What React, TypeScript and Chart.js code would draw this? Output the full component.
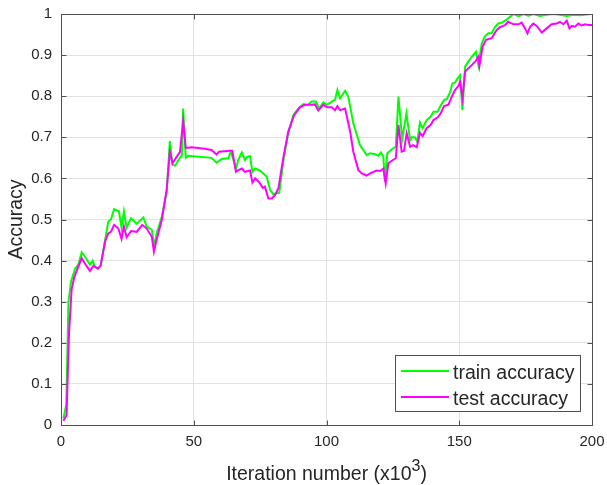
import React, { useEffect, useRef } from "react";
import { Chart, registerables } from "chart.js";

Chart.register(...registerables);

const trainX = [0.9, 2.0, 2.8, 3.8, 5.3, 6.5, 7.8, 9.0, 10.9, 11.9, 12.8, 14.0, 15.0, 16.6, 17.8, 18.8, 20.0, 21.8, 22.8, 23.7, 24.7, 26.4, 28.5, 31.0, 32.3, 34.2, 35.2, 36.0, 38.0, 39.8, 41.0, 42.0, 43.0, 44.8, 45.5, 46.0, 47.0, 48.0, 56.7, 58.6, 60.5, 63.0, 63.9, 64.9, 65.9, 66.8, 68.1, 69.3, 70.2, 71.2, 72.1, 73.1, 75.0, 76.2, 77.5, 78.7, 80.0, 81.2, 82.2, 83.8, 85.6, 87.5, 89.4, 91.3, 92.8, 94.4, 96.0, 97.2, 98.8, 100.1, 102.0, 103.2, 104.1, 105.1, 107.0, 108.2, 110.1, 112.6, 115.1, 116.4, 118.3, 119.5, 120.5, 121.4, 122.0, 122.9, 124.6, 126.1, 127.1, 128.5, 130.1, 131.5, 132.1, 133.3, 134.2, 135.2, 136.2, 137.7, 139.2, 140.3, 141.8, 142.8, 144.3, 145.3, 146.5, 147.4, 148.4, 149.3, 150.3, 151.2, 152.2, 153.4, 154.7, 156.3, 157.2, 158.5, 159.7, 161.0, 162.2, 163.5, 164.7, 166.0, 167.6, 169.1, 170.4, 172.3, 174.2, 176.1, 177.9, 180.4, 182.9, 185.4, 187.9, 190.5, 193.0, 195.5, 198.0, 200.0];
const trainY = [0.016, 0.05, 0.30, 0.35, 0.38, 0.39, 0.42, 0.41, 0.39, 0.40, 0.385, 0.38, 0.39, 0.45, 0.495, 0.50, 0.525, 0.52, 0.48, 0.52, 0.48, 0.503, 0.49, 0.505, 0.483, 0.475, 0.434, 0.466, 0.507, 0.568, 0.691, 0.633, 0.631, 0.65, 0.655, 0.77, 0.65, 0.655, 0.65, 0.638, 0.647, 0.649, 0.665, 0.646, 0.624, 0.646, 0.663, 0.645, 0.653, 0.654, 0.616, 0.624, 0.619, 0.612, 0.604, 0.573, 0.561, 0.564, 0.565, 0.645, 0.71, 0.754, 0.77, 0.781, 0.778, 0.787, 0.787, 0.77, 0.785, 0.779, 0.787, 0.791, 0.815, 0.795, 0.813, 0.799, 0.734, 0.681, 0.657, 0.661, 0.659, 0.655, 0.663, 0.653, 0.592, 0.661, 0.671, 0.677, 0.799, 0.695, 0.758, 0.693, 0.70, 0.70, 0.689, 0.736, 0.722, 0.742, 0.75, 0.762, 0.762, 0.775, 0.791, 0.793, 0.809, 0.831, 0.833, 0.843, 0.851, 0.766, 0.872, 0.884, 0.896, 0.908, 0.876, 0.929, 0.946, 0.953, 0.953, 0.969, 0.977, 0.979, 0.985, 0.993, 1.0, 0.995, 1.0, 0.996, 1.0, 0.995, 0.998, 1.0, 0.998, 0.995, 0.998, 0.997, 0.999, 1.0];

const testX = [0.9, 2.1, 3.0, 4.0, 5.0, 6.5, 7.8, 9.3, 10.9, 12.2, 13.8, 14.9, 16.6, 17.8, 18.8, 20.0, 21.6, 22.8, 23.7, 24.7, 26.4, 28.5, 30.6, 32.3, 34.2, 35.0, 36.0, 38.0, 39.8, 41.0, 42.0, 43.6, 44.8, 46.0, 47.0, 49.2, 54.2, 56.7, 58.6, 59.5, 63.7, 64.5, 65.9, 66.8, 68.1, 69.3, 71.2, 72.1, 73.1, 74.7, 76.0, 76.8, 78.1, 79.4, 80.6, 81.9, 83.8, 85.6, 87.8, 90.0, 91.9, 93.8, 95.7, 96.9, 98.8, 100.3, 102.0, 103.2, 104.1, 105.1, 107.0, 108.9, 110.1, 112.0, 113.3, 115.1, 117.0, 118.9, 120.2, 121.4, 122.3, 123.3, 124.6, 126.1, 127.1, 128.3, 129.2, 130.2, 131.5, 132.7, 134.0, 135.2, 136.2, 137.7, 139.2, 140.3, 141.8, 143.0, 144.3, 145.9, 147.2, 148.4, 149.7, 150.3, 151.2, 152.2, 154.1, 156.0, 157.2, 157.6, 158.8, 160.1, 162.2, 164.1, 165.4, 167.2, 168.5, 170.4, 172.3, 173.5, 174.8, 175.7, 176.7, 177.9, 179.2, 181.1, 182.9, 184.8, 186.7, 188.0, 189.2, 190.5, 191.5, 192.4, 193.6, 194.9, 196.1, 197.4, 198.6, 200.0];
const testY = [0.01, 0.024, 0.22, 0.33, 0.36, 0.385, 0.406, 0.39, 0.375, 0.387, 0.381, 0.387, 0.446, 0.466, 0.47, 0.487, 0.478, 0.453, 0.483, 0.457, 0.472, 0.47, 0.487, 0.478, 0.458, 0.422, 0.45, 0.50, 0.572, 0.665, 0.637, 0.653, 0.664, 0.739, 0.674, 0.676, 0.672, 0.669, 0.658, 0.665, 0.667, 0.667, 0.616, 0.62, 0.624, 0.616, 0.619, 0.59, 0.60, 0.59, 0.577, 0.58, 0.551, 0.551, 0.56, 0.576, 0.653, 0.714, 0.754, 0.773, 0.779, 0.779, 0.78, 0.765, 0.779, 0.773, 0.773, 0.766, 0.776, 0.766, 0.77, 0.714, 0.665, 0.62, 0.612, 0.607, 0.614, 0.619, 0.618, 0.624, 0.588, 0.637, 0.643, 0.649, 0.73, 0.665, 0.667, 0.71, 0.677, 0.681, 0.676, 0.711, 0.703, 0.722, 0.73, 0.742, 0.748, 0.758, 0.776, 0.779, 0.799, 0.815, 0.825, 0.835, 0.795, 0.86, 0.872, 0.884, 0.896, 0.874, 0.921, 0.937, 0.941, 0.961, 0.968, 0.973, 0.981, 0.975, 0.975, 0.979, 0.965, 0.953, 0.969, 0.977, 0.971, 0.955, 0.965, 0.975, 0.977, 0.981, 0.975, 0.984, 0.965, 0.971, 0.969, 0.977, 0.972, 0.975, 0.973, 0.973];

const seriesNames = ["train accuracy", "test accuracy"];
const seriesColors = ["#00ff00", "#ff00ff"];
const xTicks = [0, 50, 100, 150, 200];
const yTicks = [0, 0.1, 0.2, 0.3, 0.4, 0.5, 0.6, 0.7, 0.8, 0.9, 1];
const xTitle = "Iteration number (x10";
const xTitleSup = "3";
const yTitle = "Accuracy";

const FONT = "'Liberation Sans', Arial, Helvetica, sans-serif";
const TXT = "#262626";

const framePlugin = {
  id: "matlabFrame",
  afterDraw(chart: any) {
    const { ctx, chartArea } = chart;
    const { left, right, top, bottom } = chartArea;
    const xs = chart.scales.x;
    const ys = chart.scales.y;
    ctx.save();
    ctx.strokeStyle = "#505050";
    ctx.lineWidth = 1;
    const L = Math.round(left) + 0.5;
    const R = Math.round(right) + 0.5;
    const T = Math.round(top) + 0.5;
    const B = Math.round(bottom) + 0.5;
    ctx.beginPath();
    ctx.rect(L, T, R - L, B - T);
    ctx.stroke();
    const tl = 5;
    ctx.beginPath();
    xTicks.forEach((v) => {
      const px = Math.round(xs.getPixelForValue(v)) + 0.5;
      ctx.moveTo(px, B);
      ctx.lineTo(px, B - tl);
      ctx.moveTo(px, T);
      ctx.lineTo(px, T + tl);
    });
    yTicks.forEach((v) => {
      const py = Math.round(ys.getPixelForValue(v)) + 0.5;
      ctx.moveTo(L, py);
      ctx.lineTo(L + tl, py);
      ctx.moveTo(R, py);
      ctx.lineTo(R - tl, py);
    });
    ctx.stroke();

    // x title with superscript
    ctx.fillStyle = TXT;
    ctx.textBaseline = "alphabetic";
    ctx.textAlign = "left";
    ctx.font = `19.5px ${FONT}`;
    const w1 = ctx.measureText(xTitle).width;
    const w3 = ctx.measureText(")").width;
    ctx.font = `16px ${FONT}`;
    const w2 = ctx.measureText(xTitleSup).width;
    const total = w1 + w2 + w3;
    const cx = (left + right) / 2;
    const sx = cx - total / 2;
    const base = 480;
    ctx.font = `19.5px ${FONT}`;
    ctx.fillText(xTitle, sx, base);
    ctx.fillText(")", sx + w1 + w2, base);
    ctx.font = `16px ${FONT}`;
    ctx.fillText(xTitleSup, sx + w1, base - 9);

    // y title
    ctx.save();
    ctx.font = `19.5px ${FONT}`;
    ctx.translate(22, (top + bottom) / 2);
    ctx.rotate(-Math.PI / 2);
    ctx.textAlign = "center";
    ctx.textBaseline = "alphabetic";
    ctx.fillText(yTitle, 0, 0);
    ctx.restore();

    // legend
    const lx0 = 395.5, ly0 = 355.5, lx1 = 580.5, ly1 = 411.5;
    ctx.fillStyle = "#ffffff";
    ctx.fillRect(lx0, ly0, lx1 - lx0, ly1 - ly0);
    ctx.strokeStyle = "#505050";
    ctx.lineWidth = 1;
    ctx.strokeRect(lx0, ly0, lx1 - lx0, ly1 - ly0);
    const rows = [371, 397];
    seriesNames.forEach((name, i) => {
      const y = rows[i];
      ctx.strokeStyle = seriesColors[i];
      ctx.lineWidth = 2;
      ctx.beginPath();
      ctx.moveTo(401, y);
      ctx.lineTo(449, y);
      ctx.stroke();
      ctx.fillStyle = TXT;
      ctx.font = `19.5px ${FONT}`;
      ctx.textAlign = "left";
      ctx.textBaseline = "alphabetic";
      ctx.fillText(name, 453, y + 8);
    });
    ctx.restore();
  },
};

export default function App() {
  const ref = useRef<HTMLCanvasElement | null>(null);
  useEffect(() => {
    if (!ref.current) return;
    const chart = new Chart(ref.current, {
      type: "line",
      data: {
        datasets: [
          {
            label: seriesNames[0],
            data: trainX.map((x, i) => ({ x, y: trainY[i] })),
            borderColor: seriesColors[0],
            backgroundColor: seriesColors[0],
            borderWidth: 2,
            pointRadius: 0,
            tension: 0,
            order: 2,
          },
          {
            label: seriesNames[1],
            data: testX.map((x, i) => ({ x, y: testY[i] })),
            borderColor: seriesColors[1],
            backgroundColor: seriesColors[1],
            borderWidth: 2,
            pointRadius: 0,
            tension: 0,
            order: 1,
          },
        ],
      },
      options: {
        animation: false,
        responsive: true,
        maintainAspectRatio: false,
        layout: { padding: { left: 0, top: 14, right: 15, bottom: 0 } },
        plugins: { legend: { display: false }, tooltip: { enabled: false } },
        events: [],
        scales: {
          x: {
            type: "linear",
            min: 0,
            max: 200,
            afterBuildTicks: (s: any) => {
              s.ticks = xTicks.map((v) => ({ value: v }));
            },
            afterFit: (s: any) => {
              s.height = 60;
              s.paddingLeft = 0;
              s.paddingRight = 0;
            },
            ticks: {
              color: TXT,
              font: { family: FONT, size: 15 },
              padding: 8,
              maxRotation: 0,
              callback: (v: any) => String(v),
            },
            grid: { color: "#e2e2e2", drawTicks: false, lineWidth: 1 },
            border: { display: false },
          },
          y: {
            type: "linear",
            min: 0,
            max: 1,
            afterBuildTicks: (s: any) => {
              s.ticks = yTicks.map((v) => ({ value: v }));
            },
            afterFit: (s: any) => {
              s.width = 61;
              s.paddingTop = 0;
              s.paddingBottom = 0;
            },
            ticks: {
              color: TXT,
              font: { family: FONT, size: 15 },
              padding: 9,
              callback: (v: any) => String(Math.round(Number(v) * 10) / 10),
            },
            grid: { color: "#e2e2e2", drawTicks: false, lineWidth: 1 },
            border: { display: false },
          },
        },
      },
      plugins: [framePlugin],
    });
    return () => chart.destroy();
  }, []);
  return (
    <div style={{ position: "fixed", left: 0, top: 0, width: 607, height: 485, background: "#fff" }}>
      <canvas ref={ref} width={607} height={485} />
    </div>
  );
}
